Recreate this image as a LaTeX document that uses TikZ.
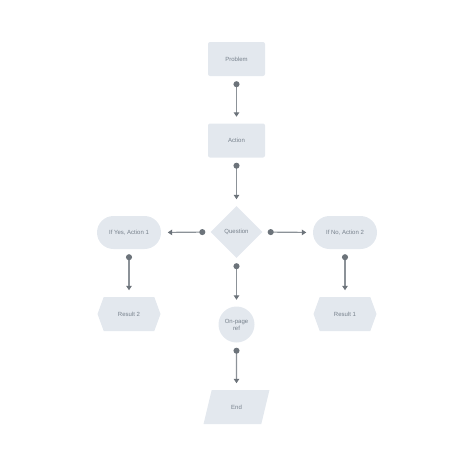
\documentclass[tikz,border=0pt]{standalone}
\usepackage{fontspec}
\setmainfont{Liberation Sans}
\usetikzlibrary{shapes.geometric,shapes.misc,shapes.symbols,arrows.meta}
\definecolor{boxfill}{HTML}{E3E8EE}
\definecolor{linec}{HTML}{8C9298}
\definecolor{tipc}{HTML}{6C737A}
\definecolor{txt}{HTML}{77818C}
\begin{document}
\begin{tikzpicture}[x=1pt,y=-1pt,
  shapebase/.style={font=\fontsize{6}{7}\selectfont, text=txt, fill=boxfill, draw=none, inner sep=1pt, align=center},
  procbox/.style={shapebase, rectangle, rounded corners=2pt, minimum width=57pt, minimum height=34pt},
  termbox/.style={shapebase, rounded rectangle, minimum width=66pt, minimum height=33pt},
  decbox/.style={shapebase, diamond, inner sep=0pt, minimum width=52pt, minimum height=52pt},
  hexbox/.style={shapebase, signal, signal to=east and west, signal pointer angle=140, minimum width=63pt, minimum height=34pt},
  refbox/.style={shapebase, circle, inner sep=0pt, minimum size=36pt},
  iobox/.style={shapebase, trapezium, trapezium stretches=true, trapezium left angle=72, trapezium right angle=108, minimum width=66pt, minimum height=34pt},
  conn/.style={draw=linec, line width=1.2pt, {Circle[length=6pt,width=6pt,color=tipc]}-{Triangle[length=4.5pt,width=5.5pt,color=tipc]}, shorten <=5pt, shorten >=6.5pt}]
\useasboundingbox (0,0) rectangle (474,474);
\node[procbox] (prob) at (236.5,59) {Problem};
\node[procbox] (act) at (236.5,140.5) {Action};
\node[decbox] (q) at (236.5,232) {Question};
\node[termbox] (yes) at (129,232.5) {If Yes, Action 1};
\node[termbox] (no) at (345,232.5) {If No, Action 2};
\node[hexbox] (r2) at (129,314) {Result 2};
\node[hexbox] (r1) at (345,314) {Result 1};
\node[refbox] (ref) at (236.5,324.5) {On-page\\ref};
\node[iobox] (end) at (236.5,407) {End};
\draw[conn] (prob.south) -- (act.north);
\draw[conn] (act.south) -- (q.north);
\draw[conn] (q.west) -- (yes.east);
\draw[conn] (q.east) -- (no.west);
\draw[conn] (yes.south) -- (r2.north);
\draw[conn] (no.south) -- (r1.north);
\draw[conn] (q.south) -- (ref.north);
\draw[conn] (ref.south) -- (end.north);
\end{tikzpicture}
\end{document}
